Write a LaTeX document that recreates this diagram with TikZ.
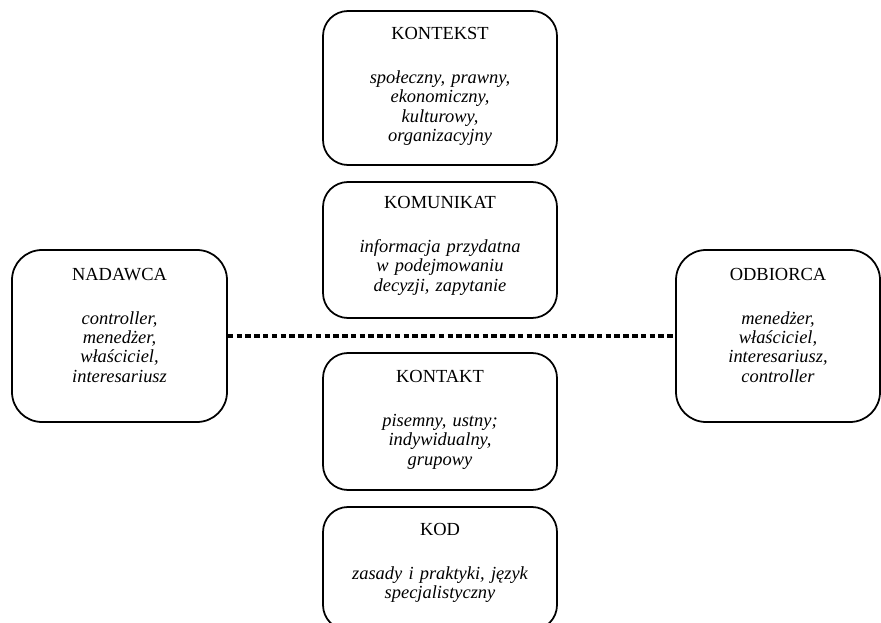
\documentclass[tikz,border=0pt]{standalone}
\usepackage{fontspec}
\setmainfont{Liberation Serif}
\usetikzlibrary{positioning}
\tikzset{
  box/.style={draw, line width=1pt, rounded corners=0.5cm, minimum width=4.68cm, inner sep=0pt},
  sidebox/.style={box, rounded corners=0.6cm},
  boxtxt/.style={align=center, inner sep=0pt, anchor=north, text width=4.4cm,
    font=\fontsize{10.5}{11}\selectfont},
  dots/.style={line width=2.3pt, dash pattern=on 3.1pt off 1.9pt}
}
\begin{document}
\begin{tikzpicture}
    \useasboundingbox (0,0) rectangle (17.62,12.44);
    \clip (0,0) rectangle (17.62,12.44);
    % middle column
    \node[box, minimum height=3.08cm] (kontekst) at (8.80,10.68) {};
    \node[box, minimum height=2.72cm] (komunikat) at (8.80,7.44) {};
    \node[box, minimum height=2.74cm] (kontakt) at (8.80,4.01) {};
    \node[box, minimum height=2.46cm] (kod) at (8.80,1.07) {};
    % sender and receiver
    \node[sidebox, minimum width=4.30cm, minimum height=3.44cm] (nadawca) at (2.39,5.72) {};
    \node[sidebox, minimum width=4.08cm, minimum height=3.44cm] (odbiorca) at (15.56,5.72) {};
    \draw[dots] (nadawca) -- (odbiorca);
    % texts
    \node[boxtxt] (kontekst-t) at ([yshift=-0.34cm]kontekst.north)
      {KONTEKST\\[14pt]\itshape społeczny, prawny,\\ekonomiczny,\\kulturowy,\\organizacyjny};
    \node[boxtxt] (komunikat-t) at ([yshift=-0.30cm]komunikat.north)
      {KOMUNIKAT\\[14pt]\itshape informacja przydatna\\w podejmowaniu\\decyzji, zapytanie};
    \node[boxtxt] (kontakt-t) at ([yshift=-0.36cm]kontakt.north)
      {KONTAKT\\[14pt]\itshape pisemny, ustny;\\indywidualny,\\grupowy};
    \node[boxtxt] (kod-t) at ([yshift=-0.34cm]kod.north)
      {KOD\\[14pt]\itshape zasady i praktyki, język\\specjalistyczny};
    \node[boxtxt, text width=4cm] (nadawca-t) at ([yshift=-0.37cm]nadawca.north)
      {NADAWCA\\[14pt]\itshape controller,\\menedżer,\\właściciel,\\interesariusz};
    \node[boxtxt, text width=4cm] (odbiorca-t) at ([yshift=-0.37cm]odbiorca.north)
      {ODBIORCA\\[14pt]\itshape menedżer,\\właściciel,\\interesariusz,\\controller};
\end{tikzpicture}
\end{document}
